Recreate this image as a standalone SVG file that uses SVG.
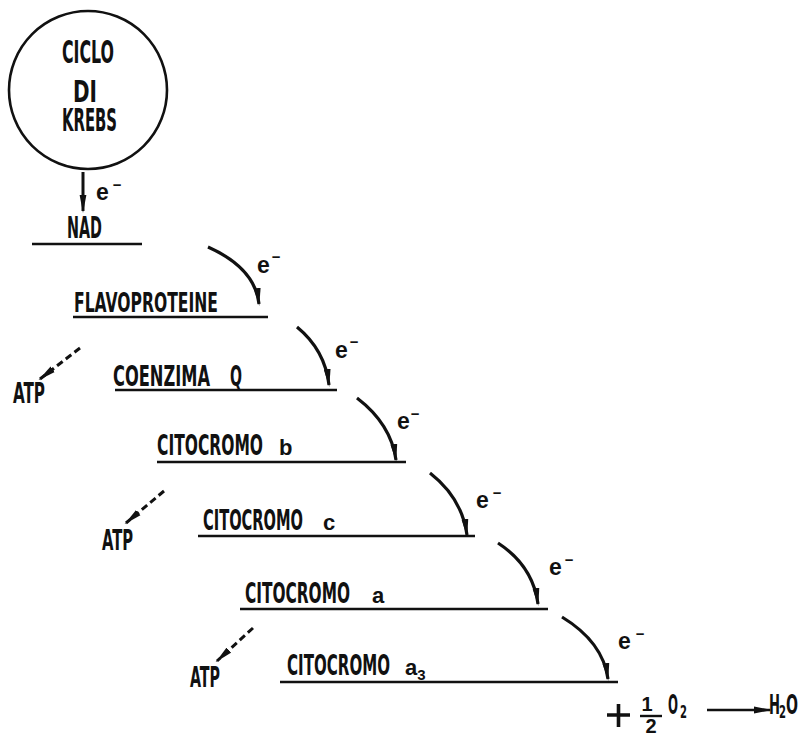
<svg xmlns="http://www.w3.org/2000/svg" width="803" height="736" viewBox="0 0 803 736">
<defs>
<style>
.cond{font-family:"Liberation Sans Narrow","DejaVu Sans Condensed","Liberation Sans",sans-serif;font-weight:bold;fill:#111}
.reg{font-family:"Liberation Sans","DejaVu Sans",sans-serif;font-weight:bold;fill:#111}
.bar{stroke:#111;stroke-width:2.6;fill:none}
.arc{stroke:#111;stroke-width:3.2;fill:none;marker-end:url(#ah)}
.dash{stroke:#111;stroke-width:3;fill:none;stroke-dasharray:7 4;marker-end:url(#ah)}
.ms{font-size:15px}
</style>
<marker id="ah" viewBox="0 0 18 8" refX="16" refY="4" markerWidth="18" markerHeight="8" markerUnits="userSpaceOnUse" orient="auto">
<path d="M0,0.6 L18,4 L0,7.4 Z" fill="#111"/>
</marker>
</defs>
<rect width="803" height="736" fill="#fff"/>

<g id="krebs">
<circle cx="88" cy="90" r="79" fill="none" stroke="#111" stroke-width="2.6"/>
<text class="cond" x="62" y="63" font-size="32" textLength="52" lengthAdjust="spacingAndGlyphs">CICLO</text>
<text class="cond" x="73" y="102" font-size="30" textLength="24" lengthAdjust="spacingAndGlyphs">DI</text>
<text class="cond" x="62" y="131" font-size="32" textLength="55" lengthAdjust="spacingAndGlyphs">KREBS</text>
</g>

<g id="nad">
<text class="cond" x="67" y="238" font-size="31" textLength="35" lengthAdjust="spacingAndGlyphs">NAD</text>
<line class="bar" x1="32" y1="244" x2="142" y2="244"/>
</g>

<g id="flavoproteine">
<text class="cond" x="74" y="312" font-size="27" textLength="144" lengthAdjust="spacingAndGlyphs">FLAVOPROTEINE</text>
<line class="bar" x1="73" y1="317" x2="268" y2="317"/>
</g>

<g id="coenzima-q">
<text class="cond" x="113" y="386" font-size="29" textLength="97" lengthAdjust="spacingAndGlyphs">COENZIMA</text>
<text class="cond" x="230" y="386" font-size="29" textLength="12" lengthAdjust="spacingAndGlyphs">Q</text>
<line class="bar" x1="115" y1="390" x2="337" y2="390"/>
</g>

<g id="citocromo-b">
<text class="cond" x="157" y="455" font-size="28" textLength="106" lengthAdjust="spacingAndGlyphs">CITOCROMO</text>
<text class="reg" x="279" y="455" font-size="22">b</text>
<line class="bar" x1="157" y1="462" x2="406" y2="462"/>
</g>

<g id="citocromo-c">
<text class="cond" x="203" y="530" font-size="28" textLength="100" lengthAdjust="spacingAndGlyphs">CITOCROMO</text>
<text class="reg" x="323" y="530" font-size="22">c</text>
<line class="bar" x1="198" y1="536" x2="475" y2="536"/>
</g>

<g id="citocromo-a">
<text class="cond" x="245" y="603" font-size="28" textLength="105" lengthAdjust="spacingAndGlyphs">CITOCROMO</text>
<text class="reg" x="372" y="603" font-size="22">a</text>
<line class="bar" x1="240" y1="609" x2="548" y2="609"/>
</g>

<g id="citocromo-a3">
<text class="cond" x="287" y="675" font-size="28" textLength="103" lengthAdjust="spacingAndGlyphs">CITOCROMO</text>
<text class="reg" x="405" y="675" font-size="22">a<tspan font-size="15" dy="5">3</tspan></text>
<line class="bar" x1="280" y1="682" x2="618" y2="682"/>
</g>

<g id="atp1"><text class="cond" x="13" y="403" font-size="29" textLength="32" lengthAdjust="spacingAndGlyphs">ATP</text></g>
<g id="atp2"><text class="cond" x="102" y="550" font-size="29" textLength="31" lengthAdjust="spacingAndGlyphs">ATP</text></g>
<g id="atp3"><text class="cond" x="190" y="687" font-size="29" textLength="30" lengthAdjust="spacingAndGlyphs">ATP</text></g>

<g id="oxygen">
<path d="M607,715 H630 M618.5,704 V727" stroke="#111" stroke-width="3.6" fill="none"/>
<text class="reg" x="647" y="711" font-size="20" text-anchor="middle">1</text>
<line x1="640" y1="716" x2="662" y2="716" stroke="#111" stroke-width="2.4"/>
<text class="reg" x="651" y="733" font-size="20" text-anchor="middle">2</text>
<text class="cond" x="668" y="714" font-size="27" textLength="10" lengthAdjust="spacingAndGlyphs">O</text>
<text class="cond" x="680" y="718" font-size="17" textLength="7" lengthAdjust="spacingAndGlyphs">2</text>
</g>

<g id="water">
<text class="cond" x="769" y="714" font-size="27" textLength="11" lengthAdjust="spacingAndGlyphs">H</text>
<text class="cond" x="779" y="718" font-size="17" textLength="7" lengthAdjust="spacingAndGlyphs">2</text>
<text class="cond" x="786" y="714" font-size="27" textLength="12" lengthAdjust="spacingAndGlyphs">O</text>
</g>

<g id="connectors">
<line x1="83" y1="172" x2="83" y2="211" stroke="#111" stroke-width="3" marker-end="url(#ah)"/>
<text class="reg" x="96" y="200" font-size="23">e<tspan class="ms" dy="-10" dx="4">−</tspan></text>

<path class="arc" d="M208,247 Q255,268 259,304"/>
<text class="reg" x="257" y="273" font-size="23">e<tspan class="ms" dy="-11" dx="2">−</tspan></text>

<path class="arc" d="M297,327 Q325,350 329,385"/>
<text class="reg" x="335" y="358" font-size="23">e<tspan class="ms" dy="-11" dx="2">−</tspan></text>

<path class="arc" d="M357,398 Q391,424 396,460"/>
<text class="reg" x="397" y="429" font-size="23">e<tspan class="ms" dy="-10" dx="1">−</tspan></text>

<path class="arc" d="M430,473 Q462,498 467,535"/>
<text class="reg" x="476" y="508" font-size="23">e<tspan class="ms" dy="-10" dx="4">−</tspan></text>

<path class="arc" d="M498,543 Q533,566 538,604"/>
<text class="reg" x="549" y="575" font-size="23">e<tspan class="ms" dy="-10" dx="3">−</tspan></text>

<path class="arc" d="M562,617 Q603,642 608,679"/>
<text class="reg" x="618" y="649" font-size="23">e<tspan class="ms" dy="-10" dx="5">−</tspan></text>

<path class="dash" d="M80,348 L40,379"/>
<path class="dash" d="M164,491 L126,523"/>
<path class="dash" d="M253,628 L217,661"/>

<line x1="707" y1="710" x2="770" y2="710" stroke="#111" stroke-width="2.4" marker-end="url(#ah)"/>
</g>
</svg>
